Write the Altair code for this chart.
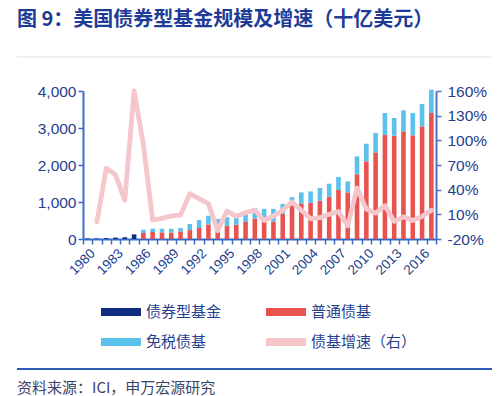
import altair as alt
import pandas as pd

title_text = "图 9：美国债券型基金规模及增速（十亿美元）"
source_text = "资料来源：ICI，申万宏源研究"

years = list(range(1980, 2018))
# 1980-1985: 债券型基金 (total only)
bond_early = [14, 14, 24, 38, 48, 125]
# 1986-2017
taxable = [162, 189, 180, 175, 205, 240, 297, 395, 285, 360, 386, 459, 555, 500, 470,
           680, 915, 960, 975, 1035, 1143, 1323, 1260, 1750, 2098, 2341, 2810, 2792,
           2910, 2800, 3043, 3405]
tax_exempt = [89, 89, 98, 100, 92, 165, 215, 235, 255, 230, 234, 211, 285, 315, 345,
              265, 215, 300, 312, 343, 352, 353, 297, 482, 478, 524, 595, 478,
              566, 605, 606, 630]
# 1981-2017, %
growth = [1, 66, 58, 27, 160, 95, 3, 5, 8, 9, 35, 29, 23, -10, 14, 7.5, 12, 15, 2.5,
          8, 15, 25, 15, 4.5, 6, 10, 13.5, -4, 42, 16.5, 11.5, 20.5, 1.5, 7, 2.5, 7.5, 15]

series_names = ["债券型基金", "普通债基", "免税债基", "债基增速（右）"]
series_colors = ["#0F2D82", "#E9534F", "#5BC2EC", "#F5C6CB"]

rows = []
for i, y in enumerate(years):
    if y < 1986:
        rows.append({"year": str(y), "series": series_names[0], "value": bond_early[i], "ord": 0})
    else:
        j = y - 1986
        rows.append({"year": str(y), "series": series_names[1], "value": taxable[j], "ord": 1})
        rows.append({"year": str(y), "series": series_names[2], "value": tax_exempt[j], "ord": 2})
df_bars = pd.DataFrame(rows)
df_line = pd.DataFrame({"year": [str(y) for y in years[1:]], "growth": growth})

year_strs = [str(y) for y in years]
navy = "#24408E"
axis_blue = "#3A6BC8"

x_enc = alt.X("year:O", scale=alt.Scale(domain=year_strs, paddingInner=0, paddingOuter=0),
              axis=alt.Axis(title=None, labelAngle=-45, labelFontSize=13.5, labelColor=navy,
                            labelFont="Liberation Sans",
                            labelExpr="(toNumber(datum.value) - 1980) % 3 == 0 ? datum.value : ''",
                            domainColor=axis_blue, domainWidth=2, tickColor=axis_blue,
                            tickWidth=1.5, tickSize=5, tickBand="extent", labelPadding=2,
                            labelOverlap=False))

bars = alt.Chart(df_bars).mark_bar(size=4.6).encode(
    x=x_enc,
    y=alt.Y("value:Q", stack="zero", scale=alt.Scale(domain=[0, 4000], nice=False),
            axis=alt.Axis(title=None, values=[0, 1000, 2000, 3000, 4000], format=",.0f",
                          labelFontSize=15.5, labelColor=navy, labelFont="Liberation Sans",
                          domainColor=axis_blue, domainWidth=2, tickColor=axis_blue,
                          tickWidth=1.5, tickSize=5, labelPadding=2)),
    color=alt.Color("series:N", scale=alt.Scale(domain=series_names, range=series_colors),
                    legend=alt.Legend(title=None, orient="none", legendX=18, legendY=213,
                                      columns=2, direction="horizontal",
                                      symbolType="M-1,-0.2L1,-0.2L1,0.2L-1,0.2Z",
                                      symbolSize=1600, symbolStrokeWidth=0,
                                      clipHeight=16, rowPadding=14, columnPadding=44,
                                      labelOffset=5, labelFontSize=15, labelColor=navy,
                                      labelFont="Noto Sans CJK SC", labelLimit=200)),
    order=alt.Order("ord:Q"),
)

line = alt.Chart(df_line).mark_line(color="#F5C6CB", strokeWidth=4.8, strokeJoin="round",
                                    strokeCap="round").encode(
    x=alt.X("year:O", scale=alt.Scale(domain=year_strs, paddingInner=0, paddingOuter=0)),
    y=alt.Y("growth:Q", scale=alt.Scale(domain=[-20, 160], nice=False),
            axis=alt.Axis(title=None, orient="right", values=[-20, 10, 40, 70, 100, 130, 160],
                          labelExpr="datum.value + '%'", labelFontSize=15.5, labelColor=navy,
                          labelFont="Liberation Sans", domainColor="#4F73C4", domainWidth=2,
                          tickColor="#4F73C4", tickWidth=1.5, tickSize=5, labelPadding=6)),
)

title = alt.Chart(pd.DataFrame({"t": [title_text]})).mark_text(
    align="left", baseline="middle", fontSize=20, fontWeight="bold",
    font="Noto Sans CJK SC", color="#1E3C96").encode(
    x=alt.value(-66), y=alt.value(-71), text="t:N")

top_rule = alt.Chart(pd.DataFrame({"t": [0]})).mark_rule(color="#F6EDEE", strokeWidth=2).encode(
    x=alt.value(-66), x2=alt.value(417), y=alt.value(-34))

bottom_rule = alt.Chart(pd.DataFrame({"t": [0]})).mark_rule(color="#2F5BB7", strokeWidth=2).encode(
    x=alt.value(-66), x2=alt.value(417), y=alt.value(278))

source = alt.Chart(pd.DataFrame({"t": [source_text]})).mark_text(
    align="left", baseline="middle", fontSize=15, font="Noto Sans CJK SC",
    color="#3A4468").encode(x=alt.value(-66), y=alt.value(297), text="t:N")

chart = alt.layer(top_rule, bars, line, title, bottom_rule, source).resolve_scale(
    y="independent"
).properties(
    width=353, height=148,
    autosize=alt.AutoSizeParams(type="none"),
    padding={"left": 75, "top": 83, "right": 56, "bottom": 157},
).configure_view(stroke=None).configure_axis(grid=False)

chart.save("out.html", embed_options={"renderer": "svg", "actions": False})
